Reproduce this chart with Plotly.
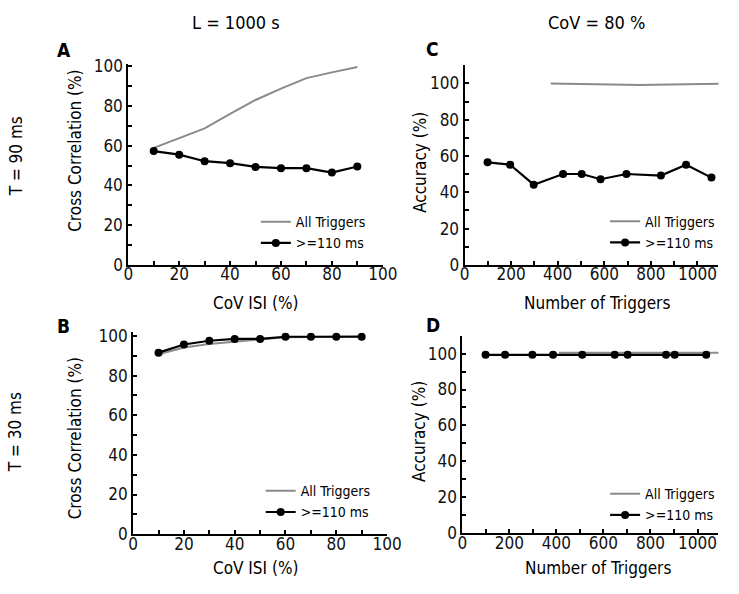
import plotly.graph_objects as go

W, H = 739, 594

# ---------------- data ----------------
cov_isi = [10, 20, 30, 40, 50, 60, 70, 80, 90]

a_all = [58.9, 63.8, 68.7, 76.0, 83.0, 88.7, 94.0, 96.9, 99.6]
a_sel = [57.3, 55.5, 52.2, 51.2, 49.3, 48.7, 48.7, 46.5, 49.5]

b_all = [90.8, 94.2, 95.9, 97.0, 98.0, 99.4, 99.5, 99.8, 99.9]
b_sel = [91.6, 95.7, 97.6, 98.5, 98.5, 99.6, 99.6, 99.6, 99.6]

c_all_x = [370, 560, 753, 1100]
c_all_y = [100.0, 99.6, 99.1, 99.9]
c_sel_x = [99, 196, 297, 423, 503, 584, 695, 843, 951, 1060]
c_sel_y = [56.5, 55.2, 44.2, 50.1, 50.1, 47.2, 50.1, 49.2, 55.2, 48.1]

d_all_x = [411, 750, 1100]
d_all_y = [100.4, 100.4, 100.4]
d_sel_x = [99, 182, 298, 386, 510, 648, 703, 866, 903, 1037]
d_sel_y = [99.3, 99.3, 99.3, 99.3, 99.3, 99.3, 99.3, 99.3, 99.3, 99.3]

NAME_ALL = "All Triggers"
NAME_SEL = ">=110 ms"

# ---------------- styling ----------------
FONT = "DejaVu Sans Condensed, DejaVu Sans, sans-serif"
LEG_FONT = "Liberation Sans Narrow, DejaVu Sans Condensed, sans-serif"
GRAY = "#8a8a8a"


def xd(a, b):
    return [a / W, b / W]


def yd(top, bottom):
    return [1 - bottom / H, 1 - top / H]


fig = go.Figure()

panels = [
    ("x", "y", "legend", cov_isi, a_all, cov_isi, a_sel),
    ("x2", "y2", "legend2", cov_isi, b_all, cov_isi, b_sel),
    ("x3", "y3", "legend3", c_all_x, c_all_y, c_sel_x, c_sel_y),
    ("x4", "y4", "legend4", d_all_x, d_all_y, d_sel_x, d_sel_y),
]

for xa, ya, lg, ax_, ay_, sx_, sy_ in panels:
    fig.add_trace(go.Scatter(
        x=ax_, y=ay_, mode="lines", name=NAME_ALL,
        line=dict(color=GRAY, width=2),
        xaxis=xa, yaxis=ya, legend=lg, showlegend=True))
    fig.add_trace(go.Scatter(
        x=sx_, y=sy_, mode="lines+markers", name=NAME_SEL,
        line=dict(color="black", width=2.2),
        marker=dict(color="black", size=8),
        xaxis=xa, yaxis=ya, legend=lg, showlegend=True))


def axis(domain, rng, dtick, minor, anchor, standoff):
    return dict(
        domain=domain, range=rng, anchor=anchor,
        showgrid=False, zeroline=False,
        showline=True, linecolor="black", linewidth=2,
        ticks="inside", ticklen=4, tickwidth=1.5, tickcolor="black",
        tick0=0, dtick=dtick,
        minor=dict(dtick=minor, ticks="inside", ticklen=4, tickwidth=1.5,
                   tickcolor="black", showgrid=False),
        tickfont=dict(family=FONT, size=17, color="#111"),
        ticklabelstandoff=standoff,
    )


XS = -7  # x tick-label standoff

layout = dict(
    width=W, height=H,
    margin=dict(l=0, r=0, t=0, b=0),
    paper_bgcolor="white", plot_bgcolor="white",
    showlegend=True,
    xaxis=axis(xd(126.7, 388.3), [0, 100], 20, 10, "y", XS),
    yaxis=axis(yd(58.3, 265.5), [0, 101.3], 20, 10, "x", 0),
    xaxis2=axis(xd(131.7, 392.7), [0, 100], 20, 10, "y2", XS),
    yaxis2=axis(yd(335, 542.7), [0, 101.8], 20, 10, "x2", 0),
    xaxis3=axis(xd(472.3, 733.3), [0, 1090], 200, 100, "y3", XS),
    yaxis3=axis(yd(60, 265.5), [0, 110], 20, 10, "x3", 0),
    xaxis4=axis(xd(470, 733.3), [0, 1089], 200, 100, "y4", XS),
    yaxis4=axis(yd(338.3, 541.7), [0, 110], 20, 10, "x4", 0),
)


def legend(right_px, top_px):
    return dict(
        x=right_px / W, y=1 - top_px / H, xanchor="right", yanchor="top",
        bgcolor="rgba(0,0,0,0)", borderwidth=0,
        font=dict(family=LEG_FONT, size=14, color="black"),
        itemwidth=30, tracegroupgap=0,
    )


layout["legend"] = legend(376, 205)
layout["legend2"] = legend(381, 482)
layout["legend3"] = legend(735, 204.5)
layout["legend4"] = legend(735, 485)

fig.update_layout(**layout)

annotations = []


def txt(x, y, s, size=17, angle=0, bold=False):
    annotations.append(dict(
        x=x / W, y=1 - y / H, xref="paper", yref="paper",
        text=f"<b>{s}</b>" if bold else s, showarrow=False,
        xanchor="center", yanchor="middle", textangle=angle,
        font=dict(family=FONT, size=size, color="black")))


# column / row headers
txt(237, 16, "L = 1000 s", 18)
txt(608, 16, "CoV = 80 %", 18)
txt(11, 154, "T = 90 ms", 17, -90)
txt(11, 438, "T = 30 ms", 17, -90)

# panel letters
txt(61, 44, "A", 19, bold=True)
txt(439, 43, "C", 19, bold=True)
txt(60, 328, "B", 19, bold=True)
txt(440, 327, "D", 19, bold=True)

# axis titles
txt(72, 148, "Cross Correlation (%)", 17, -90)
txt(72, 444, "Cross Correlation (%)", 17, -90)
txt(427, 160, "Accuracy (%)", 17, -90)
txt(426, 437, "Accuracy (%)", 17, -90)
txt(257, 305, "CoV ISI (%)", 17)
txt(257, 578, "CoV ISI (%)", 17)
txt(608, 305, "Number of Triggers", 17)
txt(609, 578, "Number of Triggers", 17)

fig.update_layout(annotations=annotations)

fig.write_html("out.html", config={"displayModeBar": False},
               post_script="document.body.style.margin='0px';")
